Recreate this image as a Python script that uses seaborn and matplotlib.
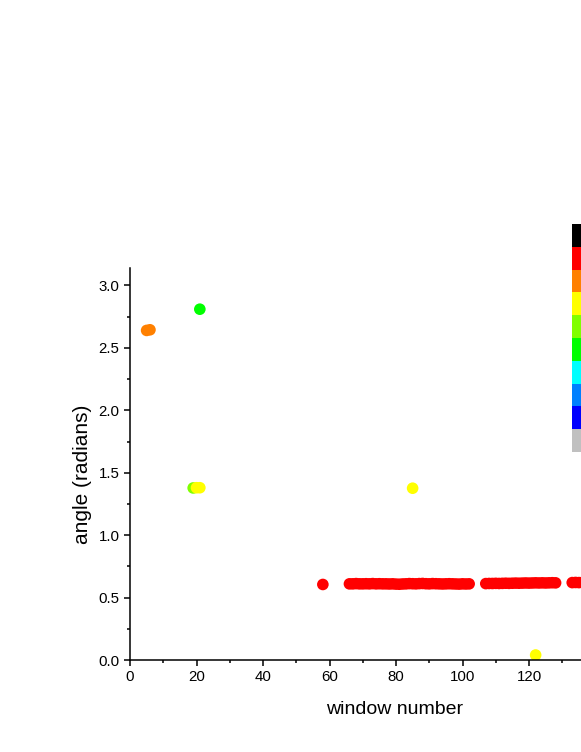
import numpy as np
import pandas as pd
import seaborn as sns
import matplotlib.pyplot as plt
from matplotlib.colors import ListedColormap

# colour classes (top to bottom of the colour key)
key_colors = ['#000000', '#FF0000', '#FF8000', '#FFFF00', '#80FF00',
              '#00FF00', '#00FFFF', '#0080FF', '#0000FF', '#C0C0C0']

# points
orange_x = [5, 6]
orange_y = [2.64, 2.645]
green_x = [21]
green_y = [2.81]
ygreen_x = [19]
ygreen_y = [1.378]
yellow_x = [20, 21, 85, 122]
yellow_y = [1.38, 1.38, 1.376, 0.04]
red_x = ([58] + list(range(66, 103)) + list(range(107, 129))
         + list(range(133, 141)))
red_y = ([0.605]
         + [0.61, 0.61, 0.612, 0.61, 0.61, 0.611, 0.61, 0.612, 0.61, 0.611,
            0.61, 0.61, 0.609, 0.61, 0.608, 0.607, 0.609, 0.61, 0.612, 0.611,
            0.61, 0.612, 0.613, 0.611, 0.61, 0.612, 0.611, 0.61, 0.609, 0.61,
            0.611, 0.61, 0.609, 0.608, 0.61, 0.609, 0.61]
         + [0.612, 0.613, 0.613, 0.614, 0.613, 0.614, 0.615, 0.614, 0.615,
            0.616, 0.615, 0.616, 0.617, 0.616, 0.617, 0.618, 0.617, 0.618,
            0.617, 0.618, 0.619, 0.618]
         + [0.62, 0.621, 0.62, 0.621, 0.62, 0.621, 0.62, 0.621])

df = pd.concat([
    pd.DataFrame({'window': orange_x, 'angle': orange_y, 'c': 'orange'}),
    pd.DataFrame({'window': green_x, 'angle': green_y, 'c': 'green'}),
    pd.DataFrame({'window': ygreen_x, 'angle': ygreen_y, 'c': 'ygreen'}),
    pd.DataFrame({'window': yellow_x, 'angle': yellow_y, 'c': 'yellow'}),
    pd.DataFrame({'window': red_x, 'angle': red_y, 'c': 'red'}),
], ignore_index=True)
pal = {'orange': '#FF8000', 'green': '#00FF00', 'ygreen': '#80FF00',
       'yellow': '#FFFF00', 'red': '#FF0000'}

sns.set_style('ticks')
plt.rcParams['font.family'] = ['Liberation Sans', 'DejaVu Sans']
plt.rcParams['text.color'] = 'black'
plt.rcParams['axes.labelcolor'] = 'black'

fig = plt.figure(figsize=(5.81, 7.52), dpi=100)
ax = fig.add_axes([130 / 581, 92 / 752, 532 / 581, 392 / 752])

sns.scatterplot(data=df, x='window', y='angle', hue='c', palette=pal,
                s=70, linewidth=0, legend=False, ax=ax)

ax.set_xlim(0, 160)
ax.set_ylim(0, 3.14)
# labelled ticks stop at 120; the rest of the axis runs off the page
ax.set_xticks(np.arange(0, 121, 20))
ax.set_xticks(np.arange(0, 131, 10), minor=True)
ax.set_yticks(np.arange(0, 3.01, 0.5))
ax.set_yticks(np.arange(0, 3.01, 0.25), minor=True)
ax.yaxis.set_major_formatter(plt.FormatStrFormatter('%.1f'))
ax.tick_params(which='major', length=4.5, width=1.1, labelsize=10.8,
               direction='out', color='black', labelcolor='black', pad=3)
ax.tick_params(which='minor', length=2.3, width=1.1, direction='out',
               color='black')
for side in ['top', 'right']:
    ax.spines[side].set_visible(False)
for side in ['left', 'bottom']:
    ax.spines[side].set_linewidth(1.1)
    ax.spines[side].set_color('black')
ax.set_xlabel('window number', fontsize=14, color='black')
ax.set_ylabel('angle (radians)', fontsize=15, color='black')
ax.xaxis.set_label_coords(0.498, -0.105)
ax.yaxis.set_label_coords(-0.072, 0.474)

# colour key at the right edge
cax = fig.add_axes([572 / 581, 300 / 752, 0.06, 228 / 752])
sns.heatmap(np.arange(len(key_colors)).reshape(-1, 1),
            cmap=ListedColormap(key_colors), cbar=False,
            xticklabels=False, yticklabels=False, ax=cax)

fig.savefig('out.png', dpi=100)
